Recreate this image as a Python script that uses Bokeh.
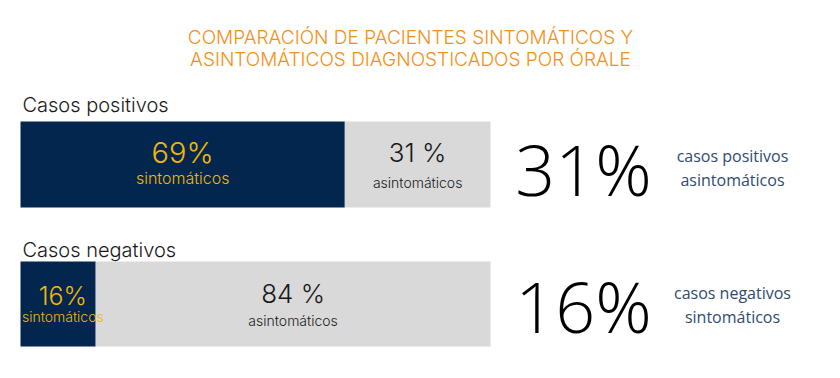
from bokeh.plotting import figure
from bokeh.models import Range1d, ColumnDataSource
from bokeh.core.properties import value
from bokeh.embed import file_html
from bokeh.resources import INLINE

# ---- data ----
title_lines = ["COMPARACIÓN DE PACIENTES SINTOMÁTICOS Y",
               "ASINTOMÁTICOS DIAGNOSTICADOS POR ÓRALE"]
categories = ["Casos positivos", "Casos negativos"]
sintomaticos = [69, 16]
asintomaticos = [31, 84]
label_sint = "sintomáticos"
label_asint = "asintomáticos"
highlight_values = [31, 16]
highlight_labels = [["casos positivos", "asintomáticos"],
                    ["casos negativos", "sintomáticos"]]

# ---- layout (pixel-like) ----
W, H = 840, 378
PX = 4.7            # pixels per percent
X0 = 20             # left edge of bars in px
def xp(px):
    return (px - X0) / PX

NAVY = "#03264f"
GRAY = "#d9d9d9"
GOLD = "#f2b705"
ORANGE = "#f39019"
DARK = "#1a1a1a"
SLATE = "#2f4b73"
MONT = value("Inter Light, Inter")
OPEN = value("Open Sans Light, Open Sans")
OPEN_R = value("Open Sans")

p = figure(width=W, height=H, output_backend="svg", toolbar_location=None,
           x_range=Range1d(xp(0), xp(W)), y_range=Range1d(H, 0),
           min_border=0, outline_line_color=None)
p.axis.visible = False
p.grid.visible = False
p.background_fill_color = "white"
p.border_fill_color = "white"

bar_y = [164, 303.5]
bar_h = [86, 85]

src = ColumnDataSource(dict(y=bar_y, h=bar_h, s=sintomaticos, a=asintomaticos,
                            tot=[s + a for s, a in zip(sintomaticos, asintomaticos)]))
p.hbar(y="y", height="h", left=0, right="s", source=src, fill_color=NAVY, line_color=None)
p.hbar(y="y", height="h", left="s", right="tot", source=src, fill_color=GRAY, line_color=None)

# title
for i, line in enumerate(title_lines):
    p.text(x=[xp(410)], y=[37 + i * 22], text=[line], text_font=MONT,
           text_font_size="19px", text_color=ORANGE, text_align="center",
           text_baseline="middle")

# category labels
cat_y = [104, 249]
for cy, c in zip(cat_y, categories):
    p.text(x=[xp(22)], y=[cy], text=[c], text_font=MONT, text_font_size="20px",
           text_color=DARK, text_align="left", text_baseline="middle")

# inside-bar labels
sint_num_y = [152, 295]
sint_lab_y = [177, 316]
num_size = ["29px", "25px"]
lab_size = ["16px", "14px"]
sint_dx = [0, 1.0]   # small horizontal nudge in percent units
asint_num_y = [152, 293]
asint_lab_y = [182, 320]
for i in range(2):
    s = sintomaticos[i]
    a = asintomaticos[i]
    p.text(x=[s / 2 + sint_dx[i]], y=[sint_num_y[i]], text=[f"{s}%"], text_font=MONT,
           text_font_size=num_size[i], text_color=GOLD, text_align="center",
           text_baseline="middle")
    p.text(x=[s / 2 + sint_dx[i]], y=[sint_lab_y[i]], text=[label_sint], text_font=MONT,
           text_font_size=lab_size[i], text_color=GOLD, text_align="center",
           text_baseline="middle")
    p.text(x=[s + a / 2], y=[asint_num_y[i]], text=[f"{a} %"], text_font=MONT,
           text_font_size="26px", text_color=DARK, text_align="center",
           text_baseline="middle")
    p.text(x=[s + a / 2], y=[asint_lab_y[i]], text=[label_asint], text_font=MONT,
           text_font_size="14px", text_color=DARK, text_align="center",
           text_baseline="middle")

# right side highlights
big_y = [168, 305]
for i in range(2):
    p.text(x=[xp(583)], y=[big_y[i]], text=[f"{highlight_values[i]}%"], text_font=OPEN,
           text_font_size="70px", text_color="#000000", text_align="center",
           text_baseline="middle")
    for j, t in enumerate(highlight_labels[i]):
        p.text(x=[xp(732)], y=[big_y[i] - 13 + j * 24], text=[t], text_font=OPEN_R,
               text_font_size="16px", text_color=SLATE, text_align="center",
               text_baseline="middle")

open("out.html", "w").write(file_html(p, INLINE))
